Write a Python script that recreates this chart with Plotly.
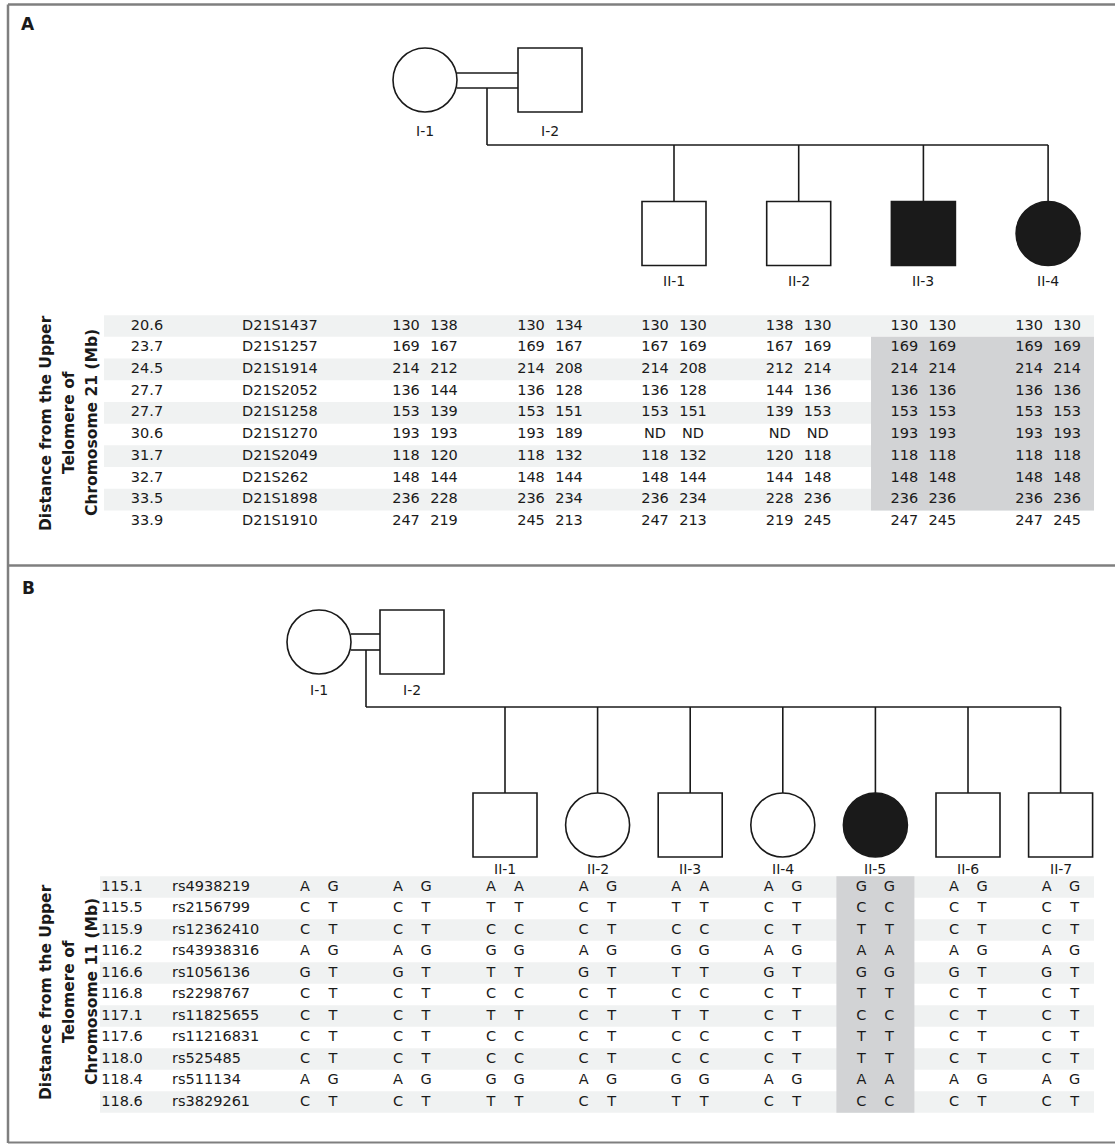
import plotly.graph_objects as go

# ---------------- DATA ----------------
# Panel A (chromosome 21 microsatellites)
A_dist = ["20.6", "23.7", "24.5", "27.7", "27.7", "30.6", "31.7", "32.7", "33.5", "33.9"]
A_markers = ["D21S1437", "D21S1257", "D21S1914", "D21S2052", "D21S1258",
             "D21S1270", "D21S2049", "D21S262", "D21S1898", "D21S1910"]
A_ids = ["I-1", "I-2", "II-1", "II-2", "II-3", "II-4"]
A_sex = ["F", "M", "M", "M", "M", "F"]
A_affected = [0, 0, 0, 0, 1, 1]
A_I1 = [("130", "138"), ("169", "167"), ("214", "212"), ("136", "144"), ("153", "139"),
        ("193", "193"), ("118", "120"), ("148", "144"), ("236", "228"), ("247", "219")]
A_I2 = [("130", "134"), ("169", "167"), ("214", "208"), ("136", "128"), ("153", "151"),
        ("193", "189"), ("118", "132"), ("148", "144"), ("236", "234"), ("245", "213")]
A_II1 = [("130", "130"), ("167", "169"), ("214", "208"), ("136", "128"), ("153", "151"),
         ("ND", "ND"), ("118", "132"), ("148", "144"), ("236", "234"), ("247", "213")]
A_II2 = [("138", "130"), ("167", "169"), ("212", "214"), ("144", "136"), ("139", "153"),
         ("ND", "ND"), ("120", "118"), ("144", "148"), ("228", "236"), ("219", "245")]
A_II3 = [("130", "130"), ("169", "169"), ("214", "214"), ("136", "136"), ("153", "153"),
         ("193", "193"), ("118", "118"), ("148", "148"), ("236", "236"), ("247", "245")]
A_II4 = [("130", "130"), ("169", "169"), ("214", "214"), ("136", "136"), ("153", "153"),
         ("193", "193"), ("118", "118"), ("148", "148"), ("236", "236"), ("247", "245")]
A_shared_rows = (1, 8)  # first/last row of shared homozygous haplotype

# Panel B (chromosome 11 SNPs)
B_dist = ["115.1", "115.5", "115.9", "116.2", "116.6", "116.8", "117.1", "117.6", "118.0", "118.4", "118.6"]
B_markers = ["rs4938219", "rs2156799", "rs12362410", "rs43938316", "rs1056136", "rs2298767",
             "rs11825655", "rs11216831", "rs525485", "rs511134", "rs3829261"]
B_ids = ["I-1", "I-2", "II-1", "II-2", "II-3", "II-4", "II-5", "II-6", "II-7"]
B_sex = ["F", "M", "M", "F", "M", "F", "F", "M", "M"]
B_affected = [0, 0, 0, 0, 0, 0, 1, 0, 0]
B_I1 = ["AG", "CT", "CT", "AG", "GT", "CT", "CT", "CT", "CT", "AG", "CT"]
B_I2 = ["AG", "CT", "CT", "AG", "GT", "CT", "CT", "CT", "CT", "AG", "CT"]
B_II1 = ["AA", "TT", "CC", "GG", "TT", "CC", "TT", "CC", "CC", "GG", "TT"]
B_II2 = ["AG", "CT", "CT", "AG", "GT", "CT", "CT", "CT", "CT", "AG", "CT"]
B_II3 = ["AA", "TT", "CC", "GG", "TT", "CC", "TT", "CC", "CC", "GG", "TT"]
B_II4 = ["AG", "CT", "CT", "AG", "GT", "CT", "CT", "CT", "CT", "AG", "CT"]
B_II5 = ["GG", "CC", "TT", "AA", "GG", "TT", "CC", "TT", "TT", "AA", "CC"]
B_II6 = ["AG", "CT", "CT", "AG", "GT", "CT", "CT", "CT", "CT", "AG", "CT"]
B_II7 = ["AG", "CT", "CT", "AG", "GT", "CT", "CT", "CT", "CT", "AG", "CT"]
B_highlight_id = "II-5"

# ---------------- LAYOUT ----------------
W, H = 1115, 1144
FONT = "DejaVu Sans"
INK = "#1a1a1a"
BAND = "#f0f2f2"
HILITE = "#d2d3d5"
FRAME = "#7f7f7f"
LW = 1.6

shapes = []
annotations = []


def line(x0, y0, x1, y1, color=INK, width=LW):
    shapes.append(dict(type="line", x0=x0, y0=y0, x1=x1, y1=y1, xref="x", yref="y",
                       line=dict(color=color, width=width)))


def rect(x0, y0, x1, y1, fill, lcolor=None, width=LW, layer="above"):
    shapes.append(dict(type="rect", x0=x0, y0=y0, x1=x1, y1=y1, xref="x", yref="y",
                       fillcolor=fill, layer=layer,
                       line=dict(color=lcolor if lcolor else "rgba(0,0,0,0)",
                                 width=width if lcolor else 0)))


def symbol(cx, cy, size, sex, aff):
    h = size / 2
    fill = INK if aff else "white"
    kind = "rect" if sex == "M" else "circle"
    shapes.append(dict(type=kind, x0=cx - h, y0=cy - h, x1=cx + h, y1=cy + h,
                       xref="x", yref="y", fillcolor=fill, line=dict(color=INK, width=LW)))


def label(x, y, text, size=14.5, bold=False, anchor="center", angle=0, color=INK):
    annotations.append(dict(x=x, y=y, xref="x", yref="y", text=("<b>%s</b>" % text) if bold else text,
                            showarrow=False, xanchor=anchor, yanchor="middle", textangle=angle,
                            font=dict(family=FONT, size=size, color=color)))


# Frame
line(8, 4.5, W, 4.5, FRAME, 2.5)
line(8, 4.5, 8, H - 1, FRAME, 2.5)
line(8, 565.5, W, 565.5, FRAME, 2.5)
line(8, H - 1.5, W, H - 1.5, FRAME, 2.0)

label(28, 24, "A", size=17, bold=True)
label(28, 588, "B", size=17, bold=True)

# ---------- Panel A pedigree ----------
SZ = 64
A_x = {"I-1": 425, "I-2": 550}
for k, pid in enumerate(A_ids[2:]):
    A_x[pid] = 674 + 124.7 * k
A_par_y, A_child_y = 80, 233.5
A_desc_x = 487
A_sib_y = 145
line(A_x["I-1"] + SZ / 2, 73, A_x["I-2"] - SZ / 2, 73)
line(A_x["I-1"] + SZ / 2, 88, A_x["I-2"] - SZ / 2, 88)
line(A_desc_x, 88, A_desc_x, A_sib_y)
line(A_desc_x, A_sib_y, A_x[A_ids[-1]], A_sib_y)
for pid, sx, af in zip(A_ids, A_sex, A_affected):
    if pid.startswith("II"):
        line(A_x[pid], A_sib_y, A_x[pid], A_child_y - SZ / 2)
        symbol(A_x[pid], A_child_y, SZ, sx, af)
        label(A_x[pid], 281, pid, size=14)
    else:
        symbol(A_x[pid], A_par_y, SZ, sx, af)
        label(A_x[pid], 131, pid, size=14)

# ---------- Panel A table ----------
A_row0, A_rowh = 326, 21.7
A_band_x0, A_band_x1 = 104, 1094
for i in range(len(A_dist)):
    if i % 2 == 0:
        y = A_row0 + i * A_rowh
        rect(A_band_x0, y - A_rowh / 2, A_band_x1, y + A_rowh / 2, BAND, layer="below")
r0, r1 = A_shared_rows
rect(871, A_row0 + (r0 - 0.5) * A_rowh, A_band_x1, A_row0 + (r1 + 0.5) * A_rowh, HILITE, layer="below")

tx, ty, tt = [], [], []
A_cols = [A_I1, A_I2, A_II1, A_II2, A_II3, A_II4]
for i in range(len(A_dist)):
    y = A_row0 + i * A_rowh
    tx.append(147); ty.append(y); tt.append(A_dist[i])
    for pid, col in zip(A_ids, A_cols):
        a, b = col[i]
        tx += [A_x[pid] - 19, A_x[pid] + 19]; ty += [y, y]; tt += [a, b]
mx = [242] * len(A_markers)
my = [A_row0 + i * A_rowh for i in range(len(A_markers))]

# ---------- Panel B pedigree ----------
B_x = {"I-1": 319, "I-2": 412}
for k, pid in enumerate(B_ids[2:]):
    B_x[pid] = 505 + 92.6 * k
B_par_y, B_child_y = 642, 825
B_desc_x = 366
B_sib_y = 707
line(B_x["I-1"] + SZ / 2, 634, B_x["I-2"] - SZ / 2, 634)
line(B_x["I-1"] + SZ / 2, 650, B_x["I-2"] - SZ / 2, 650)
line(B_desc_x, 650, B_desc_x, B_sib_y)
line(B_desc_x, B_sib_y, B_x[B_ids[-1]], B_sib_y)
for pid, sx, af in zip(B_ids, B_sex, B_affected):
    if pid.startswith("II"):
        line(B_x[pid], B_sib_y, B_x[pid], B_child_y - SZ / 2)
        symbol(B_x[pid], B_child_y, SZ, sx, af)
        label(B_x[pid], 869, pid, size=14)
    else:
        symbol(B_x[pid], B_par_y, SZ, sx, af)
        label(B_x[pid], 690, pid, size=14)

# ---------- Panel B table ----------
B_row0, B_rowh = 887, 21.5
B_band_x0, B_band_x1 = 100, 1094
for i in range(len(B_dist)):
    if i % 2 == 0:
        y = B_row0 + i * B_rowh
        rect(B_band_x0, y - B_rowh / 2, B_band_x1, y + B_rowh / 2, BAND, layer="below")
hx = B_x[B_highlight_id]
rect(hx - 39, B_row0 - B_rowh / 2, hx + 39, B_row0 + (len(B_dist) - 0.5) * B_rowh, HILITE, layer="below")

B_cols = [B_I1, B_I2, B_II1, B_II2, B_II3, B_II4, B_II5, B_II6, B_II7]
for i in range(len(B_dist)):
    y = B_row0 + i * B_rowh
    tx.append(122); ty.append(y); tt.append(B_dist[i])
    for pid, col in zip(B_ids, B_cols):
        g = col[i]
        tx += [B_x[pid] - 14, B_x[pid] + 14]; ty += [y, y]; tt += [g[0], g[1]]
bmx = [172] * len(B_markers)
bmy = [B_row0 + i * B_rowh for i in range(len(B_markers))]

# Axis titles (rotated, three lines)
for lines_, cy in ((["Distance from the Upper", "Telomere of", "Chromosome 21 (Mb)"], 423),
                   (["Distance from the Upper", "Telomere of", "Chromosome 11 (Mb)"], 992)):
    for j, t in enumerate(lines_):
        label(46 + 23 * j, cy, t, size=15.5, bold=True, angle=-90)

fig = go.Figure()
fig.add_trace(go.Scatter(x=tx, y=ty, text=tt, mode="text", textposition="middle center",
                         textfont=dict(family=FONT, size=14.5, color=INK), hoverinfo="skip",
                         showlegend=False))
fig.add_trace(go.Scatter(x=mx + bmx, y=my + bmy, text=A_markers + B_markers, mode="text",
                         textposition="middle right",
                         textfont=dict(family=FONT, size=14.5, color=INK), hoverinfo="skip",
                         showlegend=False))

fig.update_layout(
    width=W, height=H, margin=dict(l=0, r=0, t=0, b=0),
    paper_bgcolor="white", plot_bgcolor="white",
    xaxis=dict(range=[0, W], visible=False, fixedrange=True),
    yaxis=dict(range=[H, 0], visible=False, fixedrange=True),
    shapes=shapes, annotations=annotations, showlegend=False,
)
fig.write_html("out.html", config={"displayModeBar": False},
               post_script="document.body.style.margin='0';document.body.style.overflow='hidden';")
